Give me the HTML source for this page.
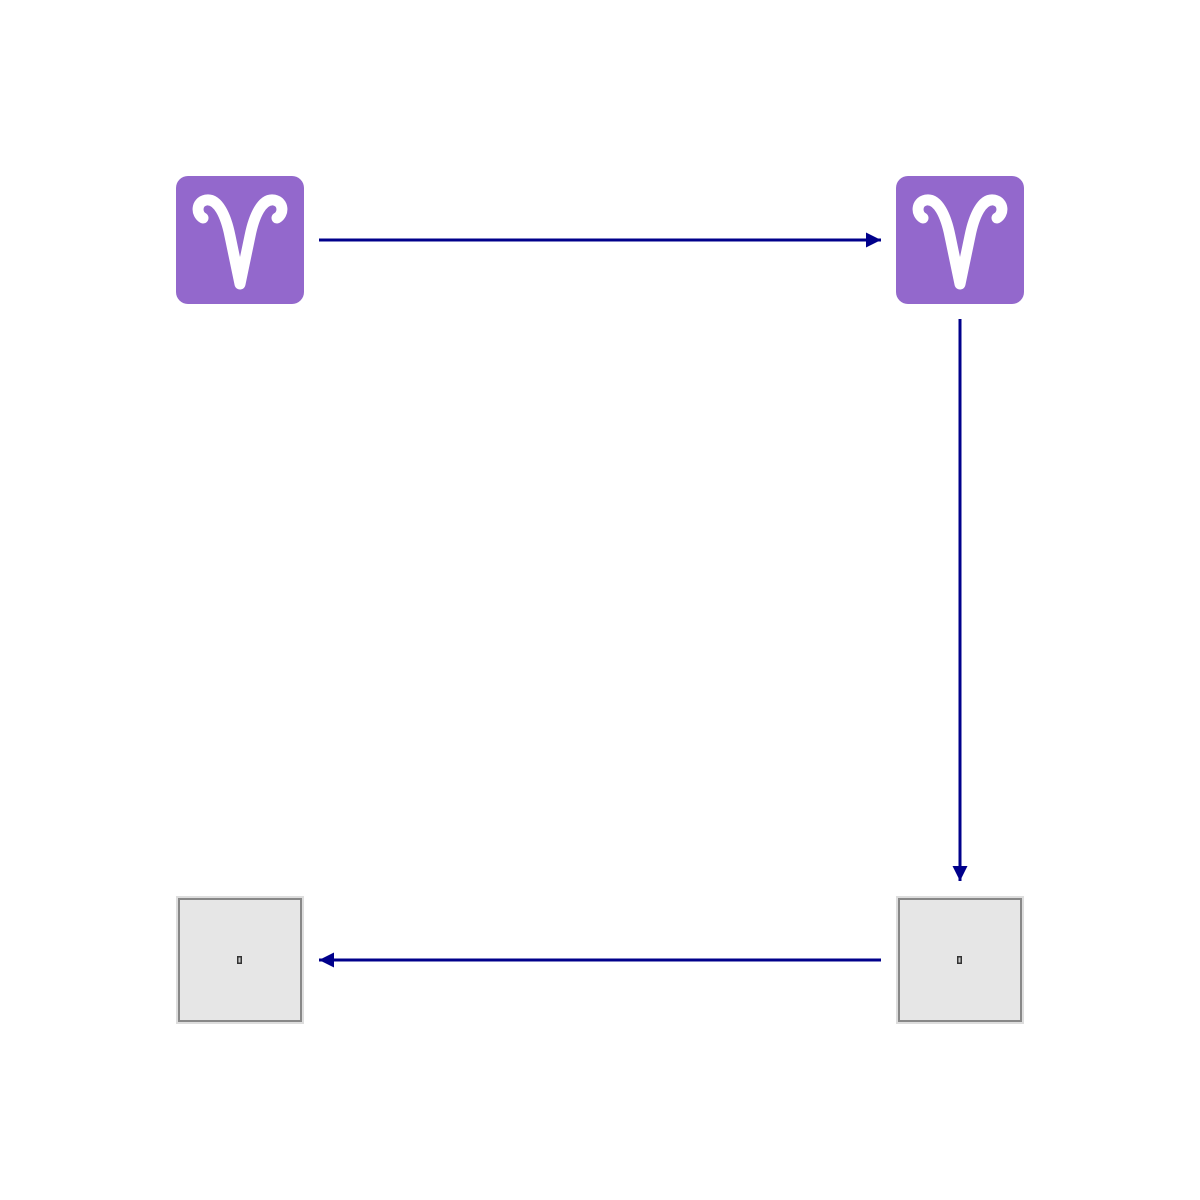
<!DOCTYPE html>
<html><head><meta charset="utf-8"><style>html,body{margin:0;padding:0;background:#fff;width:1200px;height:1200px;overflow:hidden}</style></head>
<body>
<svg width="1200" height="1200" xmlns="http://www.w3.org/2000/svg">
<defs>
<marker id="ah" viewBox="0 0 10 10" refX="10" refY="5" markerWidth="5" markerHeight="5" orient="auto" markerUnits="strokeWidth"><path d="M0,0 L10,5 L0,10 z" fill="#00008b"/></marker>
<g id="aries">
<rect x="0" y="0" width="128" height="128" rx="12" fill="#9368cc"/>
<path d="M27,42 C20,38 20,26 30,24 C42,22 50,40 54,60 L64,108 L74,60 C78,40 86,22 98,24 C108,26 108,38 101,42" fill="none" stroke="#fff" stroke-width="11" stroke-linecap="round" stroke-linejoin="round"/>
</g>
<g id="grey">
<rect x="0" y="0" width="128" height="128" fill="#ddd"/>
<rect x="3" y="3" width="122" height="122" fill="#e6e6e6" stroke="#888" stroke-width="2"/>
<rect x="61" y="60" width="5" height="8" fill="#333"/>
<rect x="62.5" y="61.5" width="2" height="5" fill="#ccc"/>
</g>
</defs>
<use href="#aries" x="176" y="176"/>
<use href="#aries" x="896" y="176"/>
<use href="#grey" x="176" y="896"/>
<use href="#grey" x="896" y="896"/>
<line x1="319" y1="240" x2="881" y2="240" stroke="#00008b" stroke-width="3" marker-end="url(#ah)"/>
<line x1="960" y1="319" x2="960" y2="881" stroke="#00008b" stroke-width="3" marker-end="url(#ah)"/>
<line x1="881" y1="960" x2="319" y2="960" stroke="#00008b" stroke-width="3" marker-end="url(#ah)"/>
</svg>
</body></html>
